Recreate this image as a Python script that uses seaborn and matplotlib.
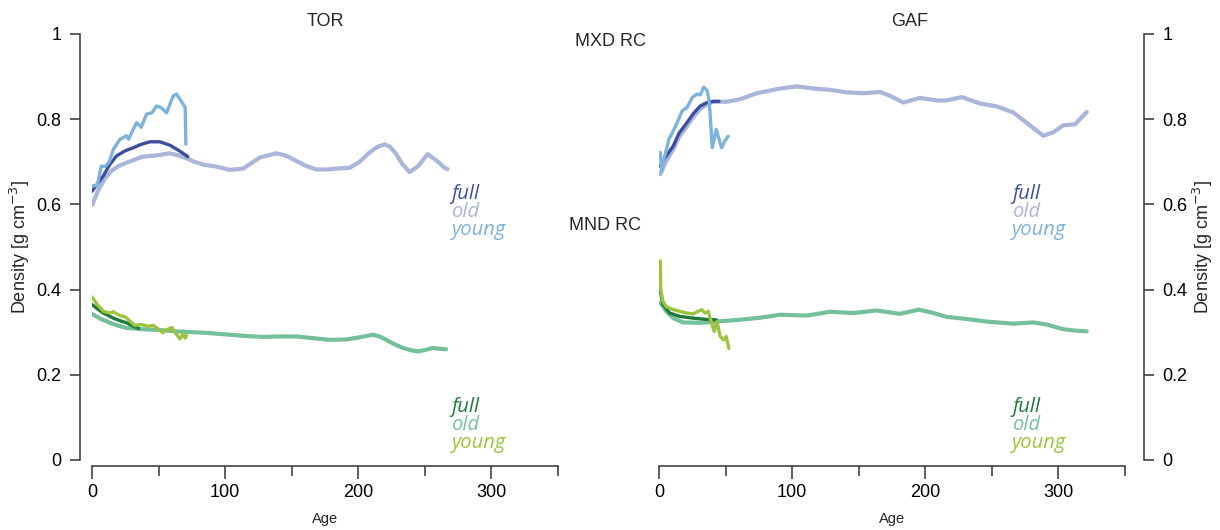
import numpy as np
import matplotlib
matplotlib.use("Agg")
import matplotlib.pyplot as plt
import seaborn as sns

# ---- data (age, density) ----
# TOR, MXD RC
tor_mxd_old_age = [0, 5, 10, 15, 20, 26, 32, 38, 45, 51, 58, 64, 71, 77, 84, 93, 103.5, 113.5,
                   126, 138.5, 146, 153.5, 161, 168.5, 176, 183.6, 193.5, 201, 208.5, 215, 220,
                   224, 228.5, 233, 238.5, 245, 252, 258, 264.8, 267]
tor_mxd_old_dens = [0.598, 0.635, 0.662, 0.68, 0.69, 0.698, 0.705, 0.712, 0.714, 0.716, 0.72, 0.716,
                    0.708, 0.70, 0.693, 0.689, 0.681, 0.684, 0.71, 0.72, 0.714, 0.702, 0.69, 0.682,
                    0.682, 0.684, 0.686, 0.70, 0.722, 0.736, 0.741, 0.735, 0.718, 0.695, 0.676,
                    0.69, 0.718, 0.705, 0.686, 0.683]
tor_mxd_full_age = [0, 4, 8.5, 13, 18.5, 25, 31, 37, 43.5, 51, 58.5, 66, 72]
tor_mxd_full_dens = [0.631, 0.648, 0.667, 0.692, 0.714, 0.726, 0.733, 0.741, 0.747, 0.747, 0.739,
                     0.725, 0.712]
tor_mxd_young_age = [0, 4, 7, 10, 13, 16, 21, 26, 27.5, 30, 33.5, 37, 41, 45, 48.5, 52, 56, 61,
                     63.5, 66, 68.5, 70, 70.5]
tor_mxd_young_dens = [0.643, 0.645, 0.69, 0.689, 0.70, 0.729, 0.753, 0.761, 0.753, 0.77, 0.792,
                      0.781, 0.812, 0.815, 0.831, 0.827, 0.815, 0.855, 0.859, 0.847, 0.835, 0.827,
                      0.741]

# TOR, MND RC
tor_mnd_old_age = [0, 6, 13.5, 20, 26, 38, 51, 63, 76, 88, 103.5, 116, 128.5, 141, 153.6, 166,
                   178.5, 191, 201, 211, 216, 221, 227, 233.5, 239, 244.8, 250, 256, 261, 266]
tor_mnd_old_dens = [0.343, 0.332, 0.322, 0.315, 0.31, 0.307, 0.305, 0.302, 0.30, 0.298, 0.294,
                    0.291, 0.289, 0.29, 0.29, 0.286, 0.282, 0.283, 0.288, 0.294, 0.29, 0.282,
                    0.272, 0.263, 0.258, 0.255, 0.258, 0.263, 0.261, 0.26]
tor_mnd_full_age = [0, 4, 8.5, 13, 16, 21, 26, 31, 35]
tor_mnd_full_dens = [0.365, 0.355, 0.345, 0.338, 0.333, 0.327, 0.322, 0.314, 0.309]
tor_mnd_young_age = [0, 4, 8.5, 13.5, 16, 21, 25, 28.5, 32, 37, 42, 46, 50, 53, 57, 60, 62.5, 66,
                     68.5, 70, 71]
tor_mnd_young_dens = [0.383, 0.365, 0.349, 0.345, 0.348, 0.339, 0.336, 0.326, 0.316, 0.318, 0.314,
                      0.316, 0.307, 0.299, 0.307, 0.311, 0.299, 0.284, 0.296, 0.286, 0.292]

# GAF, MXD RC
gaf_mxd_old_age = [1, 5, 10.7, 15, 21, 26, 31, 36, 41, 51, 61, 73.5, 91, 103.5, 116, 128.5, 141,
                   153.5, 166, 173.5, 183.5, 196, 208.6, 216, 227.4, 241, 253.7, 266, 276, 288.7,
                   296, 303.8, 312.5, 321.3]
gaf_mxd_old_dens = [0.671, 0.70, 0.729, 0.758, 0.784, 0.806, 0.824, 0.835, 0.841, 0.841, 0.847,
                    0.861, 0.872, 0.877, 0.872, 0.869, 0.863, 0.861, 0.864, 0.855, 0.839, 0.85,
                    0.844, 0.844, 0.852, 0.837, 0.83, 0.816, 0.792, 0.761, 0.769, 0.786, 0.788,
                    0.817]
gaf_mxd_full_age = [1, 5, 10.7, 15, 21, 26, 31, 36, 41, 45]
gaf_mxd_full_dens = [0.69, 0.712, 0.737, 0.767, 0.792, 0.814, 0.831, 0.839, 0.842, 0.842]
gaf_mxd_young_age = [1, 2, 4, 7.5, 12.5, 17.5, 21, 25, 28.5, 31, 33.5, 36, 37.5, 38.5, 40, 43,
                     47, 49.5, 52]
gaf_mxd_young_dens = [0.722, 0.678, 0.71, 0.753, 0.784, 0.82, 0.827, 0.851, 0.859, 0.857, 0.875,
                      0.868, 0.847, 0.808, 0.733, 0.776, 0.733, 0.749, 0.76]

# GAF, MND RC
gaf_mnd_old_age = [1, 5.5, 10.7, 18, 31, 43, 60, 76, 91, 111, 128.5, 146, 163.6, 181, 195, 205,
                   216, 231, 246, 266, 281, 291, 303.8, 312, 321.3]
gaf_mnd_old_dens = [0.369, 0.349, 0.333, 0.323, 0.322, 0.325, 0.329, 0.334, 0.341, 0.339, 0.348,
                    0.345, 0.351, 0.343, 0.353, 0.346, 0.336, 0.331, 0.325, 0.32, 0.323, 0.318,
                    0.307, 0.304, 0.302]
gaf_mnd_full_age = [1, 3, 8, 15.7, 25.7, 35.7, 43]
gaf_mnd_full_dens = [0.396, 0.365, 0.345, 0.337, 0.333, 0.33, 0.329]
gaf_mnd_young_age = [1, 1.3, 3, 5.5, 10.7, 15.7, 20.7, 25.7, 29.5, 32, 34.5, 37, 39.5, 41.5, 43.5,
                     46, 48.5, 50.5, 52.5]
gaf_mnd_young_dens = [0.467, 0.40, 0.372, 0.36, 0.353, 0.349, 0.345, 0.343, 0.349, 0.353, 0.345,
                      0.349, 0.321, 0.302, 0.325, 0.29, 0.282, 0.29, 0.262]

sites = ["TOR", "GAF"]
series_names = ["full", "old", "young"]

# colours
mxd_colors = {"full": "#3d4e9c", "old": "#a9b5da", "young": "#7cb2dc"}
mnd_colors = {"full": "#1c7a3a", "old": "#74c09b", "young": "#9cc43f"}
widths = {"full": 2.4, "old": 3.0, "young": 2.4}

data = {
    "TOR": {
        "mxd": {"old": (tor_mxd_old_age, tor_mxd_old_dens),
                "full": (tor_mxd_full_age, tor_mxd_full_dens),
                "young": (tor_mxd_young_age, tor_mxd_young_dens)},
        "mnd": {"old": (tor_mnd_old_age, tor_mnd_old_dens),
                "full": (tor_mnd_full_age, tor_mnd_full_dens),
                "young": (tor_mnd_young_age, tor_mnd_young_dens)},
    },
    "GAF": {
        "mxd": {"old": (gaf_mxd_old_age, gaf_mxd_old_dens),
                "full": (gaf_mxd_full_age, gaf_mxd_full_dens),
                "young": (gaf_mxd_young_age, gaf_mxd_young_dens)},
        "mnd": {"old": (gaf_mnd_old_age, gaf_mnd_old_dens),
                "full": (gaf_mnd_full_age, gaf_mnd_full_dens),
                "young": (gaf_mnd_young_age, gaf_mnd_young_dens)},
    },
}

sns.set_style("ticks")
plt.rcParams["font.family"] = ["Liberation Sans", "DejaVu Sans"]

fig = plt.figure(figsize=(12.2, 5.3), dpi=100)
ax_l = fig.add_axes([92 / 1220, 70 / 530, 466 / 1220, 426 / 530])
ax_r = fig.add_axes([659 / 1220, 70 / 530, 466 / 1220, 426 / 530])

spine_col = "#333333"
for ax, site in zip([ax_l, ax_r], sites):
    # draw order: old underneath, then full, then young
    for var, cols in [("mxd", mxd_colors), ("mnd", mnd_colors)]:
        for name in ["old", "full", "young"]:
            x, y = data[site][var][name]
            sns.lineplot(x=x, y=y, ax=ax, color=cols[name], lw=widths[name],
                         estimator=None, sort=False, solid_capstyle="round")

    ax.set_xlim(0, 350)
    ax.set_ylim(0, 1)
    ax.set_xticks([0, 100, 200, 300])
    ax.set_xticks([50, 150, 250, 350], minor=True)
    ax.set_yticks([0, 0.2, 0.4, 0.6, 0.8, 1])
    ax.set_yticklabels(["0", "0.2", "0.4", "0.6", "0.8", "1"])
    ax.tick_params(axis="both", which="both", direction="out", colors=spine_col,
                   labelcolor="black", labelsize=13, width=1.1)
    ax.tick_params(axis="x", which="both", bottom=True, top=False)
    ax.tick_params(axis="x", which="major", length=9, pad=4)
    ax.tick_params(axis="x", which="minor", length=7)
    ax.tick_params(axis="y", length=7, pad=6)
    ax.set_xlabel("Age", fontsize=10.5, labelpad=8)
    ax.spines["bottom"].set_position(("outward", 4))
    ax.spines["bottom"].set_bounds(0, 350)
    for s in ["bottom", "left", "right"]:
        ax.spines[s].set_color(spine_col)
        ax.spines[s].set_linewidth(1.1)
    ax.spines["top"].set_visible(False)
    ax.patch.set_alpha(0)

    # coloured text labels in place of a legend
    leg_x = 270 if site == "TOR" else 265
    for i, name in enumerate(series_names):
        ax.text(leg_x, 0.625 - i * 0.042, name, color=mxd_colors[name], style="italic",
                fontsize=14.5, family=["Open Sans", "DejaVu Sans"], va="center")
        ax.text(leg_x, 0.125 - i * 0.042, name, color=mnd_colors[name], style="italic",
                fontsize=14.5, family=["Open Sans", "DejaVu Sans"], va="center")

ylab = "Density [g cm$^{-3}$]"
# left panel: y axis on the left
ax_l.spines["right"].set_visible(False)
ax_l.spines["left"].set_position(("outward", 9))
ax_l.spines["left"].set_bounds(0, 1)
ax_l.tick_params(axis="y", left=True, right=False)
ax_l.set_ylabel(ylab, fontsize=13, labelpad=3)

# right panel: y axis on the right
ax_r.spines["left"].set_visible(False)
ax_r.spines["right"].set_position(("outward", 14))
ax_r.spines["right"].set_bounds(0, 1)
ax_r.yaxis.tick_right()
ax_r.tick_params(axis="y", left=False, right=True)
ax_r.yaxis.set_label_position("right")
ax_r.set_ylabel(ylab, fontsize=13, labelpad=2)

fig.text(325 / 1220, 1 - 22 / 530, "TOR", ha="center", va="center", fontsize=13)
fig.text(910 / 1220, 1 - 22 / 530, "GAF", ha="center", va="center", fontsize=13)
fig.text(610 / 1220, 1 - 42 / 530, "MXD RC", ha="center", va="center", fontsize=13)
fig.text(605 / 1220, 1 - 225 / 530, "MND RC", ha="center", va="center", fontsize=13)

fig.savefig("out.png", dpi=100)
